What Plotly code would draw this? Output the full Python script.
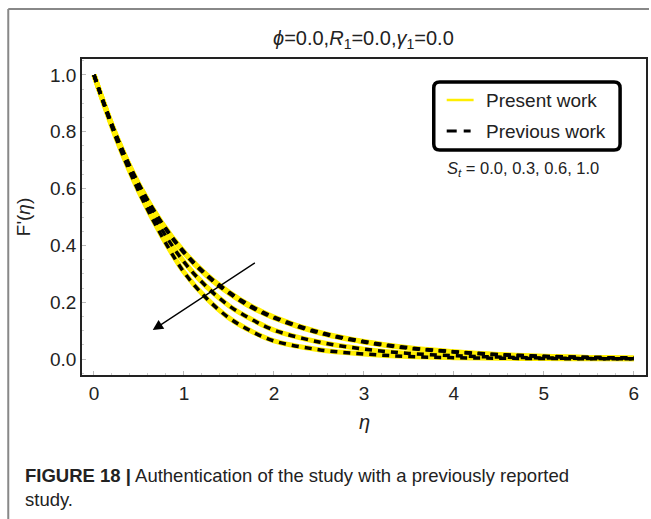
import plotly.graph_objects as go

# ---- data ----
eta = [0, 0.25, 0.5, 0.75, 1.0, 1.25, 1.5, 1.75, 2.0, 2.5, 3.0, 3.5, 4.0, 4.5, 5.0, 5.5, 6.0]
st_labels = ["0.0", "0.3", "0.6", "1.0"]
f_st00 = [1, 0.785, 0.615, 0.482, 0.378, 0.298, 0.236, 0.186, 0.148, 0.095, 0.062, 0.040, 0.026, 0.016, 0.010, 0.006, 0.004]
f_st03 = [1, 0.784, 0.613, 0.479, 0.374, 0.294, 0.232, 0.182, 0.145, 0.092, 0.060, 0.038, 0.025, 0.015, 0.009, 0.006, 0.004]
f_st06 = [1, 0.779, 0.600, 0.458, 0.342, 0.255, 0.188, 0.140, 0.102, 0.060, 0.035, 0.020, 0.012, 0.007, 0.004, 0.002, 0.001]
f_st10 = [1, 0.774, 0.588, 0.435, 0.306, 0.214, 0.145, 0.098, 0.064, 0.033, 0.018, 0.009, 0.005, 0.003, 0.002, 0.001, 0.001]
series = [f_st00, f_st03, f_st06, f_st10]
x_ticks = [0, 1, 2, 3, 4, 5, 6]
y_ticks = [0.0, 0.2, 0.4, 0.6, 0.8, 1.0]

W, H = 651, 519
L, R, T, B = 82, 648, 59, 375  # plot area in pixels


def px(x):
    return (x - L) / (R - L)


def py(y):
    return (B - y) / (B - T)


fig = go.Figure()
for s in series:
    fig.add_trace(go.Scatter(x=eta, y=s, mode="lines", line=dict(color="#FFEE00", width=5, shape="spline"),
                             showlegend=False, hoverinfo="skip"))
for s in series:
    fig.add_trace(go.Scatter(x=eta, y=s, mode="lines", line=dict(color="black", width=3.5, shape="spline", dash="7px,6px"),
                             showlegend=False, hoverinfo="skip"))

FONT = "Liberation Sans, Arial, sans-serif"

fig.update_layout(
    width=W, height=H,
    margin=dict(l=L, r=W - R, t=T, b=H - B),
    paper_bgcolor="white", plot_bgcolor="white",
    font=dict(family=FONT, size=19, color="#222"),
    xaxis=dict(range=[-0.133, 6.135], tickvals=x_ticks, ticktext=[str(v) for v in x_ticks],
               showgrid=False, zeroline=False, showline=True, linecolor="#222", linewidth=1.5, mirror=True,
               ticks="inside", ticklen=4, tickcolor="#bbb", tickfont=dict(size=19),
               minor=dict(ticks="inside", ticklen=2, tickcolor="#ccc", dtick=0.2)),
    yaxis=dict(range=[-0.056, 1.056], tickvals=y_ticks, ticktext=["%.1f" % v for v in y_ticks],
               showgrid=False, zeroline=False, showline=True, linecolor="#222", linewidth=1.5, mirror=True,
               ticks="inside", ticklen=4, tickcolor="#bbb", tickfont=dict(size=19),
               minor=dict(ticks="inside", ticklen=2, tickcolor="#ccc", dtick=0.05)),
    showlegend=False,
)

shapes = []
# outer page frame (top and left)
shapes.append(dict(type="line", xref="paper", yref="paper", x0=px(8), x1=px(651), y0=py(9), y1=py(9),
                   line=dict(color="#888", width=2)))
shapes.append(dict(type="line", xref="paper", yref="paper", x0=px(8), x1=px(8), y0=py(9), y1=py(519),
                   line=dict(color="#888", width=2)))
# legend box (rounded)
bx0, bx1, by0, by1, r = 435, 622, 82, 150, 6
path = (f"M {px(bx0 + r)},{py(by0)} L {px(bx1 - r)},{py(by0)} Q {px(bx1)},{py(by0)} {px(bx1)},{py(by0 + r)} "
        f"L {px(bx1)},{py(by1 - r)} Q {px(bx1)},{py(by1)} {px(bx1 - r)},{py(by1)} "
        f"L {px(bx0 + r)},{py(by1)} Q {px(bx0)},{py(by1)} {px(bx0)},{py(by1 - r)} "
        f"L {px(bx0)},{py(by0 + r)} Q {px(bx0)},{py(by0)} {px(bx0 + r)},{py(by0)} Z")
shapes.append(dict(type="path", xref="paper", yref="paper", path=path, line=dict(color="black", width=3.5),
                   fillcolor="white"))
shapes.append(dict(type="line", xref="paper", yref="paper", x0=px(448), x1=px(475), y0=py(100), y1=py(100),
                   line=dict(color="#FFEE00", width=2.5)))
shapes.append(dict(type="line", xref="paper", yref="paper", x0=px(448), x1=px(472), y0=py(131), y1=py(131),
                   line=dict(color="black", width=3, dash="10px,7px")))
fig.update_layout(shapes=shapes)

ann = []
ann.append(dict(text="<i>ϕ</i>=0.0,<i>R</i><sub>1</sub>=0.0,<i>γ</i><sub>1</sub>=0.0", xref="paper", yref="paper",
                x=px(364), y=py(40), showarrow=False, font=dict(size=20, color="#222"), xanchor="center", yanchor="middle"))
ann.append(dict(text="F'(<i>η</i>)", xref="paper", yref="paper", x=px(23), y=py(217), textangle=-90,
                showarrow=False, font=dict(size=19, color="#222"), xanchor="center", yanchor="middle"))
ann.append(dict(text="<i>η</i>", xref="paper", yref="paper", x=px(366), y=py(422),
                showarrow=False, font=dict(size=20, color="#222"), xanchor="center", yanchor="middle"))
ann.append(dict(text="Present work", xref="paper", yref="paper", x=px(485), y=py(100),
                showarrow=False, font=dict(size=19, color="#222"), xanchor="left", yanchor="middle"))
ann.append(dict(text="Previous work", xref="paper", yref="paper", x=px(485), y=py(131),
                showarrow=False, font=dict(size=19, color="#222"), xanchor="left", yanchor="middle"))
ann.append(dict(text="<i>S</i><sub><i>t</i></sub> = " + ", ".join(st_labels), xref="paper", yref="paper",
                x=px(446), y=py(169), showarrow=False, font=dict(size=16.5, color="#222"), xanchor="left", yanchor="middle"))
# arrow indicating increasing S_t
ann.append(dict(x=0.653, y=0.102, ax=1.805, ay=0.342, xref="x", yref="y", axref="x", ayref="y", text="",
                showarrow=True, arrowhead=2, arrowsize=1.6, arrowwidth=1.3, arrowcolor="black"))
# caption
ann.append(dict(text="<b>FIGURE 18 |</b> Authentication of the study with a previously reported<br>study.",
                xref="paper", yref="paper", x=px(23), y=py(463), showarrow=False, align="left",
                font=dict(family="Liberation Sans Narrow, Arial Narrow, Liberation Sans, sans-serif", size=18.5, color="#222"),
                xanchor="left", yanchor="top"))
fig.update_layout(annotations=ann)

fig.write_html("out.html")
